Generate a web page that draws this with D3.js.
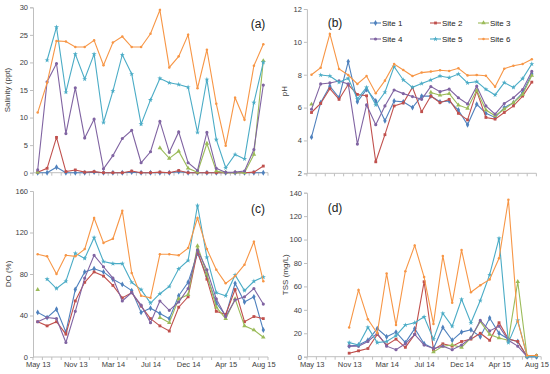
<!DOCTYPE html>
<html>
<head>
<meta charset="utf-8">
<script src="https://cdn.jsdelivr.net/npm/d3@7"></script>
<style>
body{margin:0;background:#fff;}
svg text{font-family:"Liberation Sans",Arial,sans-serif;}
</style>
</head>
<body>
<div id="chart"></div>
<script>
// sampling dates (25 trips)
var categories=["May 13","Jul 13","Aug 13","Oct 13","Nov 13","Dec 13","Jan 14","Feb 14","Mar 14","Apr 14",
  "May 14","Jun 14","Jul 14","Aug 14","Sep 14","Oct 14","Dec 14","Jan 15","Feb 15","Mar 15",
  "Apr 15","May 15","Jun 15","Jul 15","Aug 15"];
var tickLabels=["May 13","Nov 13","Mar 14","Jul 14","Dec 14","Apr 15","Aug 15"];
var siteNames=["Site 1","Site 2","Site 3","Site 4","Site 5","Site 6"];

// (a) salinity
var sal1=[0,0,1.0,0,0,0,0.1,0,0,0,0.1,0,0,0,0,0.2,0,0,0,0,0,0,0,0,0];
var sal2=[0.1,0.8,6.4,0.2,0.5,0.1,0.2,0,0,0,0.3,0,0,0.1,0,0.4,0,0,0,0,0,0,0,0.1,1.2];
var sal3=[0.1,null,null,null,null,null,null,null,null,null,null,null,null,4.5,2.6,3.9,0.8,0.1,5.3,0.3,0,0,0,3.3,20.3];
var sal4=[0.5,16.5,19.8,7.1,15.4,6.3,9.7,0.7,3.1,6.2,7.7,1.8,3.8,9.3,3.7,7.4,1.8,0.4,7.3,0.8,0.05,0.1,0.3,4.2,15.9];
var sal5=[null,20.4,26.4,14.6,21.5,17.0,21.5,9.1,14.8,21.4,17.9,8.8,13.2,17.1,16.3,16.0,15.5,7.3,16.9,6.0,0.9,3.3,2.5,12.7,20.0];
var sal6=[10.9,16.3,23.9,23.8,22.8,22.8,24.0,19.5,23.6,24.7,22.8,22.8,25.2,29.5,19.1,21.1,25.0,15.3,22.3,12.5,4.9,13.6,9.6,19.4,23.3];

// (b) pH
var ph1=[4.2,6.3,7.3,6.6,8.8,6.35,7.1,6.4,5.2,6.4,6.35,6.0,6.7,6.7,6.35,6.4,5.85,4.95,6.2,5.65,5.4,6.0,6.3,6.9,8.05];
var ph2=[5.7,6.25,7.15,6.5,7.4,6.8,6.72,2.7,4.35,6.1,6.28,7.23,5.75,6.7,6.3,6.5,5.65,5.25,7.0,5.4,5.3,5.7,6.1,6.7,7.55];
var ph3=[6.2,null,null,null,null,null,null,null,null,null,null,null,null,6.92,6.75,6.85,6.15,5.95,7.05,5.85,5.5,5.9,6.3,6.8,7.95];
var ph4=[5.9,7.44,7.5,7.62,7.44,3.78,6.16,4.96,6.1,7.07,6.85,6.67,6.5,7.28,6.97,7.12,6.6,6.22,7.3,6.1,5.6,6.25,6.6,7.1,8.2];
var ph5=[null,7.98,7.92,7.54,7.78,6.52,7.23,6.16,6.93,8.49,7.68,7.23,7.46,7.68,7.92,7.82,8.04,7.5,7.58,7.11,6.77,7.52,7.23,7.76,8.65];
var ph6=[8.0,8.43,10.48,8.35,7.98,7.44,7.92,6.87,7.64,8.65,8.29,7.92,8.13,8.19,8.27,8.23,8.39,7.96,7.98,7.94,7.27,8.37,8.55,8.65,8.94];

// (c) DO
var do1=[43,38,46,24,65,82,85,82,75,70,64,43,47,42,37,59,72,100,78,52,40,71,53,58,26];
var do2=[34,30,34,22,54,72,82,78,69,57,62,49,37,30,25,48,58,102,75,44,41,65,34,39,37];
var do3=[65,null,null,null,null,null,null,null,null,null,null,null,null,38,33,56,60,107,80,48,37,56,30,26,19];
var do4=[34,38,37,14,44,76,98,87,76,54,62,50,33,54,45,53,66,103,84,56,39,55,58,66,51];
var do5=[null,75,66,73,100,95,115,92,90,90,72,65,52,61,68,85,93,146,96,62,59,79,64,73,77];
var do6=[99,97,80,98,97,104,134,110,114,141,81,59,57,99,99,98,105,134,104,84,71,78,89,111,73];

// (d) TSS
var tss1=[null,null,null,null,9,10,14,24,17,21,12,24,11,7,25,14,21,23,17,33,20,15,13,0,0];
var tss2=[null,null,null,null,3,5,7,19,10,15,8,19,64,6,11,9,13,15,20,14,29,15,13,0,1];
var tss3=[null,null,null,null,null,null,null,null,null,null,null,null,null,4,9,10,8,16,30,19,16,14,64,0,1];
var tss4=[null,null,null,null,9,9,13,20,9,6,11,19,10,7,9,6,10,16,31,22,26,14,9,0,0];
var tss5=[null,null,null,null,12,10,25,12,13,18,27,29,34,15,37,26,49,29,48,70,101,12,31,0,0];
var tss6=[null,null,null,null,25,57,32,20,71,27,73,95,68,28,86,46,91,55,61,66,84,134,30,1,1];

var colors=["#4f81bd","#c0504d","#9bbb59","#8064a2","#4bacc6","#f79646"];
var shapes=[d3.symbolDiamond,d3.symbolSquare,d3.symbolTriangle,d3.symbolCircle,d3.symbolStar,d3.symbolCircle];
var shapeSize=[10,8,9,8,8,5];

var W=550,H=374;
var svg=d3.select("#chart").append("svg").attr("width",W).attr("height",H);

var panels=[
  {tag:"(a)",title:"Salinity (ppt)",series:[sal1,sal2,sal3,sal4,sal5,sal6],yDom:[0,30],yStep:5,
   x0:37.7,x1:263.3,yTop:7.3,yBot:172.7,tx:7,tagX:258,tagY:24,labels:false},
  {tag:"(b)",title:"pH",series:[ph1,ph2,ph3,ph4,ph5,ph6],yDom:[2,12],yStep:2,
   x0:311.5,x1:531.8,yTop:9,yBot:173.3,tx:284,tagX:335,tagY:23,labels:false},
  {tag:"(c)",title:"DO  (%)",series:[do1,do2,do3,do4,do5,do6],yDom:[0,160],yStep:40,
   x0:37.7,x1:263.3,yTop:191,yBot:357,tx:8,tagX:258,tagY:209,labels:true},
  {tag:"(d)",title:"TSS  (mg/L)",series:[tss1,tss2,tss3,tss4,tss5,tss6],yDom:[0,140],yStep:20,
   x0:311.7,x1:536.5,yTop:192.7,yBot:356.7,tx:285,tagX:335,tagY:208,labels:true}
];

var axisColor="#bfbfbf", textColor="#404040";

panels.forEach(function(p){
  var g=svg.append("g");
  var step=(p.x1-p.x0)/(categories.length-1);
  var x=d3.scalePoint().domain(categories).range([p.x0,p.x1]);
  var y=d3.scaleLinear().domain(p.yDom).range([p.yBot,p.yTop]);
  var left=p.x0-step/2, right=p.x1+step/2;

  // y axis
  var yAxis=d3.axisLeft(y).tickValues(d3.range(p.yDom[0],p.yDom[1]+0.001,p.yStep)).tickSize(3).tickPadding(2);
  var ya=g.append("g").attr("transform","translate("+left+",0)").call(yAxis);
  ya.select(".domain").attr("stroke",axisColor);
  ya.selectAll(".tick line").attr("stroke",axisColor);
  ya.selectAll(".tick text").attr("fill",textColor).style("font-size","7.5px");

  // x axis with ticks between categories
  g.append("line").attr("x1",left).attr("x2",right).attr("y1",p.yBot).attr("y2",p.yBot).attr("stroke",axisColor);
  var bounds=d3.range(categories.length+1).map(function(k){return left+k*step;});
  g.selectAll(".xt").data(bounds).enter().append("line")
    .attr("x1",function(d){return d;}).attr("x2",function(d){return d;})
    .attr("y1",p.yBot).attr("y2",p.yBot+3).attr("stroke",axisColor);
  if(p.labels){
    var xAxis=d3.axisBottom(x).tickValues(tickLabels).tickSize(0).tickPadding(5);
    var xa=g.append("g").attr("transform","translate(0,"+p.yBot+")").call(xAxis);
    xa.select(".domain").remove();
    xa.selectAll(".tick text").attr("fill",textColor).style("font-size","7.5px");
  }

  // axis title
  g.append("text").attr("transform","translate("+p.tx+","+((p.yTop+p.yBot)/2)+") rotate(-90)")
    .attr("text-anchor","middle").attr("dy","0.35em").attr("fill",textColor).style("font-size","8px").text(p.title);
  // panel tag
  g.append("text").attr("x",p.tagX).attr("y",p.tagY).attr("text-anchor","middle").attr("dy","0.35em")
    .attr("fill","#222").style("font-size","12px").text(p.tag);

  var line=d3.line().defined(function(d){return d!==null;})
    .x(function(d,i){return x(categories[i]);}).y(function(d){return y(d);});

  p.series.forEach(function(vals,s){
    g.append("path").datum(vals).attr("d",line).attr("fill","none")
      .attr("stroke",colors[s]).attr("stroke-width",1.1);
    g.selectAll(".m"+s).data(vals.map(function(v,i){return {v:v,i:i};}).filter(function(d){return d.v!==null;}))
      .enter().append("path")
      .attr("d",d3.symbol().type(shapes[s]).size(shapeSize[s]))
      .attr("transform",function(d){return "translate("+x(categories[d.i])+","+y(d.v)+")";})
      .attr("fill",colors[s]);
  });
});

// legend inside panel (b)
var legX=[370,430,478], legY=[23,39];
var leg=svg.append("g");
siteNames.forEach(function(name,s){
  var lx=legX[s%3], ly=legY[Math.floor(s/3)];
  leg.append("line").attr("x1",lx).attr("x2",lx+11).attr("y1",ly).attr("y2",ly)
    .attr("stroke",colors[s]).attr("stroke-width",1.1);
  leg.append("path").attr("d",d3.symbol().type(shapes[s]).size(shapeSize[s]))
    .attr("transform","translate("+(lx+5.5)+","+ly+")").attr("fill",colors[s]);
  leg.append("text").attr("x",lx+12).attr("y",ly).attr("dy","0.35em")
    .attr("fill","#222").style("font-size","8px").text(name);
});
</script>
</body>
</html>
